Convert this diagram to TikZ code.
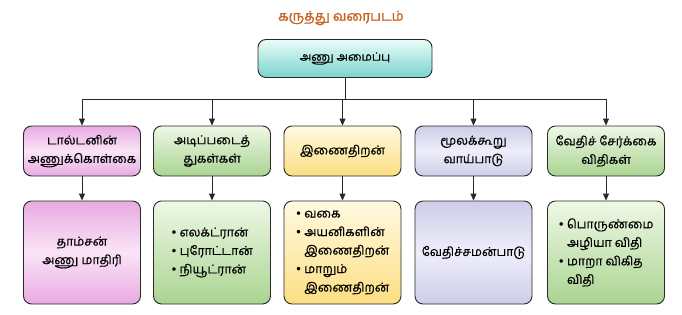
\documentclass[tikz,border=0pt]{standalone}
\usepackage{fontspec}
\newfontfamily\tamil[Script=Tamil, FakeBold=0.6]{Hind Madurai}
\newfontfamily\tamilbold[Script=Tamil, FakeBold=1.6]{Hind Madurai}
\usetikzlibrary{arrows.meta}
\definecolor{titlec}{RGB}{200,100,35}
\definecolor{linec}{RGB}{40,40,40}
\definecolor{tealT}{RGB}{235,252,248}
\definecolor{tealB}{RGB}{120,212,205}
\definecolor{pinkE}{RGB}{232,170,226}
\definecolor{pinkM}{RGB}{250,228,246}
\definecolor{greenT}{RGB}{238,248,230}
\definecolor{greenB}{RGB}{170,212,145}
\definecolor{yelT}{RGB}{255,250,225}
\definecolor{yelB}{RGB}{252,222,130}
\definecolor{lavE}{RGB}{205,205,232}
\definecolor{lavM}{RGB}{238,238,250}
\tikzset{
  box/.style={draw=linec, line width=0.9pt, rounded corners=8pt, font=\tamil\fontsize{12.3}{18.5}\selectfont, align=center, inner sep=2pt},
  rowone/.style={box, minimum width=117pt, minimum height=50pt},
  rowtwo/.style={box, minimum width=117pt, minimum height=103pt, align=left},
  tealsh/.style={top color=tealT, bottom color=tealB},
  pinksh/.style={top color=pinkE, bottom color=pinkE, middle color=pinkM},
  greensh/.style={top color=greenT, bottom color=greenB},
  yelsh/.style={top color=yelT, bottom color=yelB},
  lavsh/.style={top color=lavE, bottom color=lavE, middle color=lavM},
  conn/.style={draw=linec, line width=0.9pt},
  arr/.style={conn, -{Triangle[length=7pt,width=6pt]}}
}
\begin{document}
\begin{tikzpicture}[x=1pt,y=-1pt]
\useasboundingbox (0,0) rectangle (682,314);
\node[font=\tamilbold\fontsize{13.5}{15}\selectfont, text=titlec] (title) at (341,18) {கருத்து வரைபடம்};
\node[box, tealsh, minimum width=174pt, minimum height=38pt, font=\tamil\fontsize{11.5}{14}\selectfont] (top) at (345,58.5) {அணு அமைப்பு};
\coordinate (bus) at (0,99);
% row one
\node[rowone, pinksh] (a1) at (82,151) {டால்டனின்\\அணுக்கொள்கை};
\node[rowone, greensh] (a2) at (212,151) {அடிப்படைத்\\துகள்கள்};
\node[rowone, yelsh] (a3) at (342.5,151) {இணைதிறன்};
\node[rowone, lavsh] (a4) at (473.5,151) {மூலக்கூறு\\வாய்பாடு};
\node[rowone, greensh] (a5) at (606,151) {வேதிச் சேர்க்கை\\விதிகள்};
% row two
\node[rowtwo, pinksh, align=center] (b1) at (82,252.5) {தாம்சன்\\அணு மாதிரி};
\node[rowtwo, greensh] (b2) at (212,252.5) {• எலக்ட்ரான்\\• புரோட்டான்\\• நியூட்ரான்};
\node[rowtwo, yelsh] (b3) at (342.5,252.5) {• வகை\\• அயனிகளின்\\\phantom{• }இணைதிறன்\\• மாறும்\\\phantom{• }இணைதிறன்};
\node[rowtwo, lavsh, align=center] (b4) at (473.5,252.5) {வேதிச்சமன்பாடு};
\node[rowtwo, greensh] (b5) at (606,252.5) {• பொருண்மை\\\phantom{• }அழியா விதி\\• மாறா விகித\\\phantom{• }விதி};
% connectors
\draw[conn] (top.south) -- (top.south |- bus);
\draw[conn] (a1.north |- bus) -- (a5.north |- bus);
\foreach \i in {1,...,5}{
  \draw[arr] (a\i.north |- bus) -- (a\i.north);
  \draw[arr] (a\i.south) -- (b\i.north);
}
\end{tikzpicture}
\end{document}
